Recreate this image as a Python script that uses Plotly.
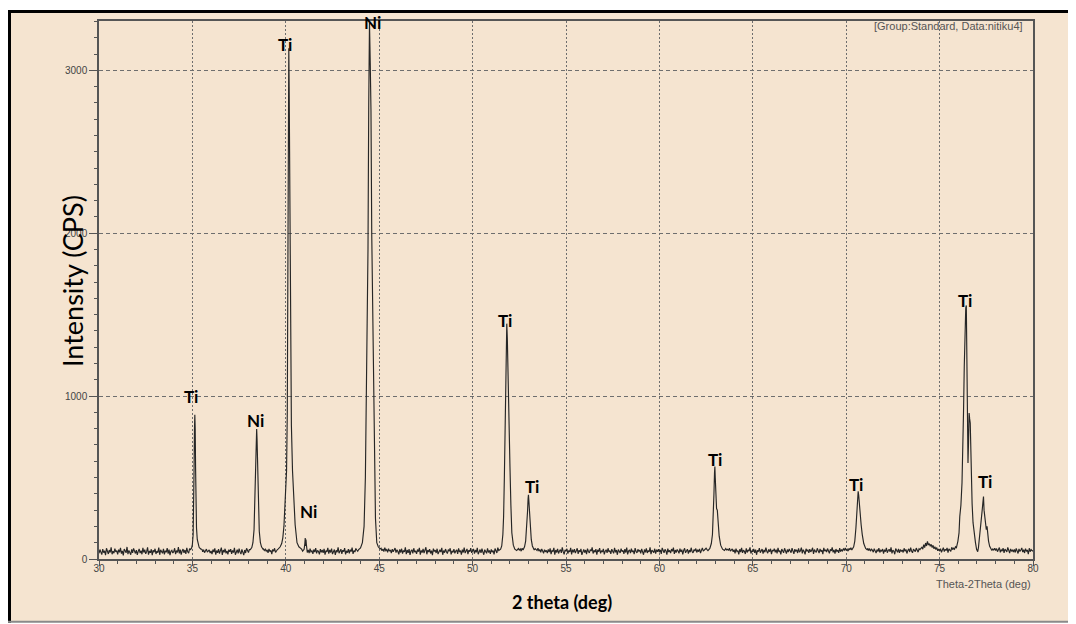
import plotly.graph_objects as go

# ---------------- data ----------------
BASE_START = 30.0
BASE_STEP = 0.05
# background intensity (cps), one value every 0.05 deg from 30.00 to 80.00 (20 per degree)
BASE_Y = [
    35, 58, 42, 27, 61, 39, 50, 24, 66, 45, 31, 55, 40, 72, 29, 48, 36, 63, 44, 52,
    28, 57, 41, 69, 33, 50, 22, 61, 46, 38, 74, 30, 53, 43, 26, 59, 37, 65, 48, 34,
    55, 25, 47, 62, 36, 51, 29, 68, 40, 57, 32, 45, 71, 27, 49, 38, 60, 23, 54, 42,
    63, 31, 48, 39, 70, 26, 56, 44, 35, 62, 28, 51, 41, 67, 33, 58, 24, 47, 53, 37,
    45, 66, 30, 52, 40, 73, 34, 57, 27, 49, 61, 38, 55, 31, 69, 44, 36, 64, 50, 58,
    62, 55, 68, 48, 60, 52, 70, 46, 58, 64, 50, 44, 57, 39, 53, 61, 42, 48, 56, 36,
    49, 30, 58, 43, 65, 27, 52, 38, 60, 33, 47, 70, 25, 55, 41, 63, 35, 50, 29, 57,
    44, 61, 32, 53, 39, 68, 26, 48, 57, 35, 64, 42, 30, 59, 46, 24, 55, 37, 66, 50,
    40, 58, 45, 62, 50, 66, 60, 70, 65, 72, 68, 60, 55, 64, 58, 70, 62, 52, 60, 48,
    56, 38, 62, 45, 53, 30, 59, 47, 66, 40, 51, 58, 44, 63, 55, 68, 60, 72, 65, 75,
    80, 85, 90, 95, 88, 82, 78, 70, 75, 68, 72, 65, 60, 70, 58, 66, 52, 60, 48, 55,
    62, 47, 58, 40, 55, 36, 63, 44, 50, 31, 58, 42, 67, 35, 53, 46, 29, 60, 41, 55,
    38, 62, 27, 51, 44, 69, 33, 56, 40, 64, 30, 48, 58, 25, 53, 42, 71, 36, 47, 60,
    32, 54, 45, 67, 28, 50, 39, 61, 34, 57, 46, 70, 31, 52, 43, 65, 55, 48, 62, 58,
    60, 66, 58, 72, 70, 80, 85, 90, 95, 90, 85, 80, 75, 70, 68, 66, 62, 60, 64, 70,
    72, 58, 66, 50, 62, 45, 70, 52, 58, 41, 64, 48, 55, 36, 60, 44, 52, 67, 39, 57,
    46, 28, 59, 40, 63, 33, 52, 44, 71, 30, 55, 38, 61, 25, 49, 57, 35, 66, 42, 50,
    31, 58, 45, 68, 27, 53, 40, 62, 36, 49, 72, 29, 55, 43, 60, 34, 51, 24, 64, 46,
    54, 37, 63, 30, 48, 57, 42, 69, 26, 52, 39, 61, 45, 33, 58, 47, 66, 28, 50, 41,
    60, 35, 49, 56, 31, 65, 43, 52, 27, 58, 40, 70, 36, 48, 62, 30, 54, 45, 67, 38,
    47, 62, 33, 55, 41, 68, 29, 50, 58, 37, 63, 44, 26, 57, 48, 35, 66, 40, 53, 31,
    59, 42, 52, 28, 64, 46, 37, 70, 33, 54, 45, 61, 50, 58, 66, 70, 75, 80, 85, 90,
    85, 80, 75, 70, 68, 66, 62, 60, 58, 64, 55, 62, 48, 66, 58, 70, 65, 72, 68, 75,
    78, 72, 66, 70, 62, 68, 58, 64, 60, 52, 66, 48, 58, 41, 62, 50, 35, 57, 44, 53,
    36, 59, 42, 65, 30, 51, 47, 68, 27, 55, 40, 62, 34, 49, 58, 38, 71, 45, 29, 56,
    48, 63, 33, 52, 44, 69, 28, 57, 41, 60, 36, 50, 66, 31, 54, 43, 62, 25, 47, 59,
    40, 55, 30, 64, 46, 37, 58, 49, 72, 34, 53, 42, 61, 27, 56, 45, 67, 35, 51, 43,
    62, 29, 48, 57, 38, 66, 44, 52, 31, 60, 47, 35, 69, 41, 55, 26, 58, 50, 37, 64,
    45, 53, 32, 61, 40, 70, 28, 49, 56, 36, 63, 43, 51, 30, 67, 46, 38, 59, 48, 55,
    34, 62, 47, 26, 58, 41, 65, 37, 52, 44, 71, 30, 55, 48, 39, 63, 33, 57, 45, 60,
    42, 56, 31, 68, 45, 38, 59, 50, 27, 64, 43, 53, 36, 61, 47, 70, 32, 55, 40, 58,
    49, 35, 63, 44, 57, 29, 52, 66, 38, 48, 60, 33, 55, 42, 69, 46, 37, 58, 51, 64,
    40, 57, 45, 62, 36, 53, 68, 48, 55, 60, 66, 58, 70, 75, 80, 85, 90, 95, 100, 105,
    110, 100, 95, 90, 85, 80, 75, 70, 66, 62, 58, 64, 56, 60, 52, 66, 48, 58, 62, 44,
    57, 35, 63, 46, 52, 29, 60, 43, 68, 38, 54, 47, 31, 65, 40, 56, 49, 71, 34, 51,
    44, 62, 37, 58, 26, 53, 45, 67, 39, 50, 61, 33, 56, 42, 70, 48, 36, 59, 45, 63,
    30, 55, 48, 64, 41, 57, 35, 69, 44, 52, 28, 61, 46, 38, 66, 50, 33, 58, 43, 62,
    54, 39, 67, 45, 31, 60, 48, 56, 37, 65, 42, 51, 70, 34, 57, 46, 28, 63, 49, 55,
    38, 61, 44, 53, 69, 32, 58, 47, 40, 66, 51, 36, 62, 45, 55, 30, 68, 48, 57, 42,
    64, 46, 35, 59, 50, 72, 41, 56, 33, 61, 47, 54, 38, 67, 45, 58, 50, 62, 55, 68,
    52, 60, 48, 65, 56, 70, 62, 75, 80, 85, 90, 95, 100, 95, 90, 85, 80, 75, 70, 66,
    62, 70, 58, 66, 52, 64, 48, 60, 55, 42, 63, 50, 36, 58, 46, 67, 40, 54, 49, 61,
    33, 57, 45, 68, 39, 52, 60, 44, 71, 35, 55, 48, 29, 64, 50, 41, 62, 37, 58, 46,
    55, 40, 66, 47, 59, 34, 53, 62, 43, 70, 49, 38, 61, 52, 45, 67, 56, 42, 63, 58,
    66, 72, 60, 88, 70, 98, 80, 108, 86, 94, 78, 90, 70, 84, 62, 76, 58, 70, 50, 62,
    48, 64, 41, 57, 70, 45, 60, 52, 68, 39, 62, 55, 47, 72, 58, 66, 60, 75, 70, 80,
    90, 100, 120, 140, 160, 180, 200, 220, 240, 260, 240, 220, 200, 180, 160, 140, 120, 100, 90, 80,
    70, 65, 60, 58, 62, 66, 70, 74, 78, 82, 80, 76, 72, 68, 64, 60, 58, 62, 55, 66,
    52, 64, 45, 58, 70, 41, 56, 49, 67, 38, 60, 53, 44, 71, 50, 36, 62, 47, 57, 43,
    59, 40, 65, 51, 34, 62, 46, 55, 68, 42, 57, 37, 63, 49, 53, 30, 66, 45, 58, 52,
    48,
]

# peak regions (2theta deg, cps)
R35_X = [34.90, 34.96, 35.00, 35.04, 35.07, 35.09, 35.11, 35.13, 35.15, 35.17, 35.19, 35.22, 35.26, 35.30, 35.36, 35.44, 35.52]
R35_Y = [58, 68, 90, 150, 320, 560, 790, 886, 800, 560, 340, 190, 120, 90, 72, 62, 58]

R38_X = [38.10, 38.18, 38.24, 38.30, 38.34, 38.38, 38.42, 38.44, 38.46, 38.50, 38.54, 38.58, 38.64, 38.70, 38.78]
R38_Y = [58, 70, 100, 180, 330, 560, 760, 798, 740, 520, 300, 170, 100, 75, 60]

R40_X = [39.60, 39.70, 39.78, 39.84, 39.90, 39.96, 40.00, 40.04, 40.08, 40.11, 40.14, 40.16, 40.18, 40.20, 40.23, 40.26, 40.30, 40.36, 40.42, 40.50, 40.60, 40.70, 40.80]
R40_Y = [62, 75, 95, 130, 200, 320, 420, 540, 900, 1900, 2900, 3136, 2900, 2400, 1800, 1200, 820, 540, 390, 210, 100, 75, 65]

R41_X = [40.98, 41.02, 41.04, 41.06, 41.08, 41.10, 41.13]
R41_Y = [60, 95, 128, 80, 120, 90, 60]

R44_X = [43.90, 44.00, 44.10, 44.19, 44.26, 44.34, 44.40, 44.44, 44.48, 44.52, 44.56, 44.60, 44.65, 44.69, 44.74, 44.80, 44.87, 44.95, 45.05]
R44_Y = [58, 68, 100, 200, 500, 1159, 1900, 2800, 3290, 3050, 2750, 2000, 1500, 1159, 600, 250, 100, 75, 62]

R52_X = [51.40, 51.50, 51.56, 51.62, 51.66, 51.70, 51.74, 51.78, 51.81, 51.83, 51.86, 51.90, 51.95, 52.00, 52.05, 52.10, 52.18, 52.26, 52.36]
R52_Y = [52, 60, 80, 150, 262, 500, 900, 1250, 1420, 1445, 1350, 1050, 800, 568, 330, 161, 85, 60, 52]

R53_X = [52.70, 52.78, 52.84, 52.90, 52.94, 52.97, 52.99, 53.01, 53.04, 53.08, 53.14, 53.20, 53.30]
R53_Y = [55, 75, 110, 190, 290, 370, 394, 360, 300, 210, 120, 80, 55]

R63_X = [62.60, 62.70, 62.78, 62.84, 62.88, 62.92, 62.95, 62.97, 62.99, 63.02, 63.06, 63.10, 63.14, 63.20, 63.28, 63.38, 63.48]
R63_Y = [52, 65, 95, 150, 240, 400, 530, 568, 500, 380, 310, 300, 230, 140, 85, 60, 52]

R70_X = [70.30, 70.40, 70.46, 70.52, 70.56, 70.60, 70.64, 70.67, 70.71, 70.75, 70.80, 70.86, 70.94, 71.04, 71.14]
R70_Y = [55, 75, 110, 190, 290, 380, 415, 390, 320, 250, 210, 150, 95, 65, 55]

R76_X = [75.90, 75.98, 76.04, 76.08, 76.14, 76.20, 76.24, 76.28, 76.32, 76.36, 76.40, 76.43, 76.46, 76.49, 76.52, 76.55,
         76.58, 76.61, 76.64, 76.67, 76.70, 76.74, 76.79, 76.85, 76.92, 76.98, 77.04, 77.08, 77.12, 77.16, 77.20, 77.24,
         77.28, 77.32, 77.35, 77.38, 77.42, 77.46, 77.50, 77.54, 77.58, 77.62, 77.68, 77.74, 77.80]
R76_Y = [70, 110, 160, 260, 330, 470, 620, 900, 1180, 1400, 1540, 1557, 1150, 700, 590, 720,
         896, 860, 835, 640, 486, 340, 223, 150, 101, 60, 45, 70, 110, 150, 200, 242,
         300, 350, 384, 300, 242, 210, 180, 200, 150, 110, 78, 60, 52]

PEAK_REGIONS = [(R35_X, R35_Y), (R38_X, R38_Y), (R40_X, R40_Y), (R41_X, R41_Y), (R44_X, R44_Y),
                (R52_X, R52_Y), (R53_X, R53_Y), (R63_X, R63_Y), (R70_X, R70_Y), (R76_X, R76_Y)]

LABEL_TEXT = ["Ti", "Ni", "Ti", "Ni", "Ni", "Ti", "Ti", "Ti", "Ti", "Ti", "Ti"]
LABEL_X = [34.93, 38.40, 39.97, 41.20, 44.66, 51.74, 53.17, 62.97, 70.55, 76.37, 77.42]
LABEL_Y = [996, 853, 3159, 290, 3296, 1465, 445, 608, 460, 1587, 476]

X_RANGE = [30, 80]
Y_RANGE = [0, 3303]

# ---------------- assemble the pattern ----------------
pts = []
for i, v in enumerate(BASE_Y):
    x = round(BASE_START + BASE_STEP * i, 2)
    if any(rx[0] <= x <= rx[-1] for rx, _ in PEAK_REGIONS):
        continue
    pts.append((x, v))
for rx, ry in PEAK_REGIONS:
    pts.extend(zip(rx, ry))
pts.sort()
two_theta = [p[0] for p in pts]
intensity = [p[1] for p in pts]

BEIGE = "#F5E4D0"
AX = "#555555"
GRID = "#6e6e6e"

fig = go.Figure()
fig.add_trace(go.Scatter(x=two_theta, y=intensity, mode="lines",
                         line=dict(color="#262626", width=1.15), showlegend=False,
                         hoverinfo="x+y"))

# the page body has an 8px margin, so the figure sits at page offset (8, 8)
OFF = 8
W, H = 1076 - OFF, 624 - OFF
ML, MR, MT, MB = 91, 43, 11, 65
PW, PH = W - ML - MR, H - MT - MB


def px(page_x):
    return (page_x - OFF - ML) / PW


def py(page_y):
    return (H - MB - (page_y - OFF)) / PH


annotations = []
for t, x, y in zip(LABEL_TEXT, LABEL_X, LABEL_Y):
    annotations.append(dict(x=x, y=y, xref="x", yref="y", text=t, showarrow=False,
                            xanchor="center", yanchor="middle",
                            font=dict(family="Lato", size=17, color="black", weight="bold")))

annotations += [
    dict(x=px(72), y=py(280), xref="paper", yref="paper", text="Intensity (CPS)", textangle=-90,
         showarrow=False, xanchor="center", yanchor="middle",
         font=dict(family="Lato", size=27, color="black")),
    dict(x=px(561.5), y=py(602), xref="paper", yref="paper", text="2 theta (deg)",
         showarrow=False, xanchor="center", yanchor="middle",
         font=dict(family="Lato", size=18, color="black", weight="bold")),
    dict(x=1.0, y=py(584), xref="paper", yref="paper", text="Theta-2Theta (deg)",
         showarrow=False, xanchor="right", yanchor="middle",
         font=dict(family="Liberation Sans", size=11, color="#555555")),
    dict(x=px(1025), y=py(24), xref="paper", yref="paper", text="[Group:Standard, Data:nitiku4]",
         showarrow=False, xanchor="right", yanchor="middle",
         font=dict(family="Liberation Sans", size=11, color="#555555")),
]

shapes = [
    dict(type="rect", xref="paper", yref="paper", x0=px(8), x1=px(1072), y0=py(622), y1=py(8),
         fillcolor=BEIGE, line=dict(width=0), layer="below"),
    dict(type="line", xref="paper", yref="paper", x0=px(9.5), x1=px(9.5), y0=py(623), y1=py(8),
         line=dict(color="black", width=3)),
    dict(type="line", xref="paper", yref="paper", x0=px(8), x1=px(1073), y0=py(9.5), y1=py(9.5),
         line=dict(color="black", width=3)),
    dict(type="line", xref="paper", yref="paper", x0=px(1072), x1=px(1072), y0=py(622), y1=py(8),
         line=dict(color="#222222", width=2)),
    dict(type="line", xref="paper", yref="paper", x0=px(8), x1=px(1073), y0=py(622), y1=py(622),
         line=dict(color="#8a8a8a", width=2)),
]

tickfont = dict(family="Liberation Sans", size=10, color="#444444")

fig.update_layout(
    width=W, height=H,
    margin=dict(l=ML, r=MR, t=MT, b=MB, pad=0),
    paper_bgcolor="white",
    plot_bgcolor=BEIGE,
    annotations=annotations,
    shapes=shapes,
    xaxis=dict(range=X_RANGE, tick0=30, dtick=5, showgrid=True, gridcolor=GRID, griddash="2px,2px",
               gridwidth=1, showline=True, linecolor=AX, linewidth=1.5, mirror=True,
               ticks="outside", ticklen=5, tickcolor=AX, tickwidth=1, tickfont=tickfont,
               ticklabelstandoff=-6,
               minor=dict(dtick=1, ticks="outside", ticklen=3, tickcolor=AX, showgrid=False),
               zeroline=False, fixedrange=True),
    yaxis=dict(range=Y_RANGE, tick0=0, dtick=1000, showgrid=True, gridcolor=GRID, griddash="4px,3px",
               gridwidth=1, showline=True, linecolor=AX, linewidth=1.5, mirror=True,
               ticks="outside", ticklen=8, tickcolor=AX, tickwidth=1, tickfont=tickfont,
               minor=dict(dtick=100, ticks="outside", ticklen=3, tickcolor=AX, showgrid=False),
               zeroline=False, fixedrange=True),
)

fig.write_html("out.html")
